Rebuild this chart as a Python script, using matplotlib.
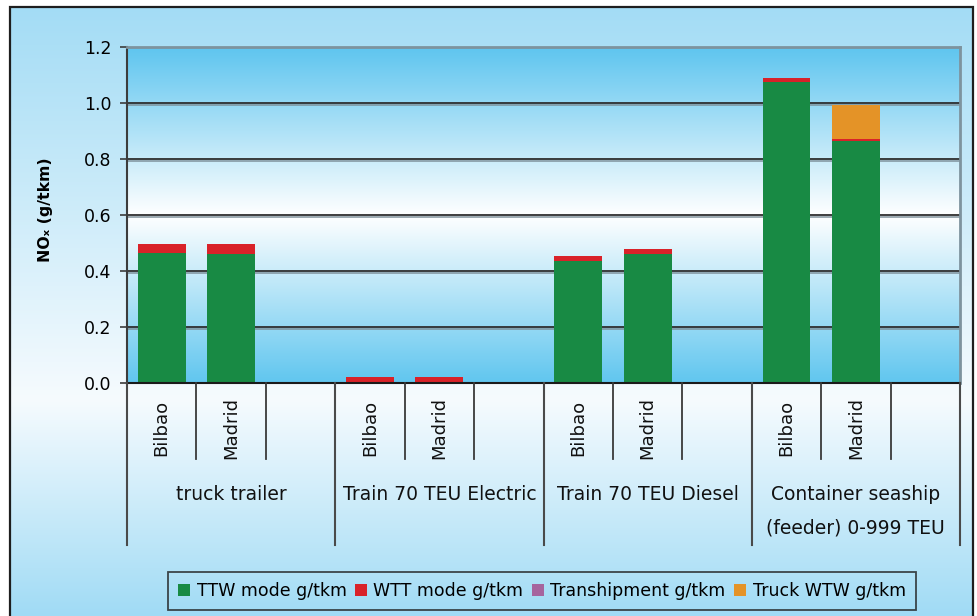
import numpy as np
import matplotlib
matplotlib.use("Agg")
import matplotlib.pyplot as plt
from matplotlib.colors import LinearSegmentedColormap
from matplotlib.patches import Patch, Rectangle
from matplotlib.transforms import blended_transform_factory
import matplotlib.patheffects as pe

plt.rcParams['font.family'] = ['DejaVu Sans']

# ---- data ----
groups = ["truck trailer", "Train 70 TEU Electric", "Train 70 TEU Diesel",
          "Container seaship\n(feeder) 0-999 TEU"]
cities = ["Bilbao", "Madrid"]
series_names = ["TTW mode g/tkm", "WTT mode g/tkm", "Transhipment g/tkm", "Truck WTW g/tkm"]
series_colors = ["#188a44", "#d92229", "#a6649e", "#e49327"]
# order: truck Bilbao, truck Madrid, electric Bilbao, electric Madrid,
#        diesel Bilbao, diesel Madrid, ship Bilbao, ship Madrid
ttw = [0.464, 0.462, 0.0, 0.0, 0.436, 0.462, 1.075, 0.864]
wtt = [0.032, 0.034, 0.021, 0.021, 0.018, 0.017, 0.014, 0.009]
tranship = [0.0, 0.0, 0.0, 0.0, 0.0, 0.0, 0.0, 0.0]
truck_wtw = [0.0, 0.0, 0.0, 0.0, 0.0, 0.0, 0.0, 0.121]
yticks = [0.0, 0.2, 0.4, 0.6, 0.8, 1.0, 1.2]

W, H = 977, 616
fig = plt.figure(figsize=(W / 100, H / 100), dpi=100)
fig.patch.set_facecolor("white")

# ---- outer gradient background ----
bg = fig.add_axes([9 / W, 0, 964 / W, 609 / H], zorder=-10)
bg_cmap = LinearSegmentedColormap.from_list(
    "bg", [(0.0, "#a0dbf5"), (0.355, "#f6fbfe"), (1.0, "#a3dcf5")], N=1024)
bg.imshow(np.linspace(0, 1, 1024).reshape(-1, 1), cmap=bg_cmap, aspect="auto",
          extent=[0, 1, 0, 1], origin="lower", interpolation="bilinear")
bg.set_axis_off()
fig.add_artist(Rectangle((9.5 / W, -0.05), 963.5 / W, (609 / H) + 0.05,
                         transform=fig.transFigure, fill=False,
                         edgecolor="#1e1e1e", linewidth=1.6, zorder=5))

# ---- main axes ----
ax = fig.add_axes([127 / W, (H - 383) / H, (960 - 127) / W, 336 / H])
ax.set_xlim(0, 12)
ax.set_ylim(0, 1.2)
pa_cmap = LinearSegmentedColormap.from_list(
    "pa", [(0.0, "#60c6ef"), (0.5, "#ffffff"), (1.0, "#5ec5ef")], N=1024)
ax.imshow(np.linspace(0, 1, 1024).reshape(-1, 1), cmap=pa_cmap, aspect="auto",
          extent=[0, 12, 0, 1.2], origin="lower", zorder=0, interpolation="bilinear")

# gridlines
for yv in yticks[1:-1]:
    ax.axhline(yv, color="#2e2e2e", lw=1.3, zorder=1,
               path_effects=[pe.SimpleLineShadow(offset=(0, -1.2), shadow_color="#7a8c96", alpha=0.8),
                             pe.Normal()])

# bars
positions = []
for g in range(len(groups)):
    for c in range(len(cities)):
        positions.append(g * 3 + c + 0.5)
positions = np.array(positions)
bw = 0.69
bottom = np.zeros(len(positions))
for vals, col in zip([ttw, wtt, tranship, truck_wtw], series_colors):
    v = np.array(vals)
    ax.bar(positions, v, bw, bottom=bottom, color=col, zorder=3, linewidth=0)
    bottom += v

# spines
for s in ["top", "right"]:
    ax.spines[s].set_color("#7e939e")
    ax.spines[s].set_linewidth(2)
ax.spines["left"].set_color("#3c3c3c")
ax.spines["left"].set_linewidth(1.5)
ax.spines["bottom"].set_color("#1a1a1a")
ax.spines["bottom"].set_linewidth(1.5)
ax.spines["bottom"].set_zorder(4)

ax.set_yticks(yticks)
ax.set_yticklabels([f"{v:.1f}" for v in yticks])
ax.tick_params(axis="y", direction="out", length=5, width=1.2, color="#3c3c3c",
               labelsize=12.5, pad=6)
ax.set_xticks([])

ax.set_ylabel("NOₓ (g/tkm)", fontsize=11.3, fontweight="bold", ha="center", va="center")
ax.yaxis.set_label_coords(-0.0984, 0.515)

# ---- multi-level category axis ----
trans = blended_transform_factory(ax.transData, ax.transAxes)
def ay(py):
    return (383 - py) / 336.0

for g in range(len(groups)):
    for c in range(3):
        x = g * 3 + c
        if c == 0:
            ax.plot([x, x], [0, ay(545)], transform=trans, color="#4a4a4a",
                    lw=1.5, clip_on=False, zorder=5)
        else:
            ax.plot([x, x], [0, ay(459)], transform=trans, color="#3a3a3a",
                    lw=1.3, clip_on=False, zorder=5)
ax.plot([12, 12], [0, ay(545)], transform=trans, color="#4a4a4a",
        lw=1.5, clip_on=False, zorder=5)

for g, name in enumerate(groups):
    for c, city in enumerate(cities):
        ax.text(g * 3 + c + 0.5, ay(428), city, transform=trans, rotation=90,
                ha="center", va="center", fontsize=13, color="#111111")
    lines = name.split("\n")
    for k, ln in enumerate(lines):
        ax.text(g * 3 + 1.5, ay(495 + 33 * k), ln, transform=trans,
                ha="center", va="center", fontsize=13.5, color="#111111")

# ---- legend ----
handles = [Patch(facecolor=c, edgecolor="none") for c in series_colors]
leg = fig.legend(handles, series_names, loc="center", ncol=4,
                 bbox_to_anchor=(542 / W, 1 - 591 / H), fontsize=12.5,
                 handlelength=0.7, handleheight=0.7, handletextpad=0.35,
                 columnspacing=0.5, borderpad=0.6, frameon=True, fancybox=False)
fr = leg.get_frame()
fr.set_facecolor("none")
fr.set_edgecolor("#1e1e1e")
fr.set_linewidth(1.3)

fig.savefig("out.png", dpi=100)
